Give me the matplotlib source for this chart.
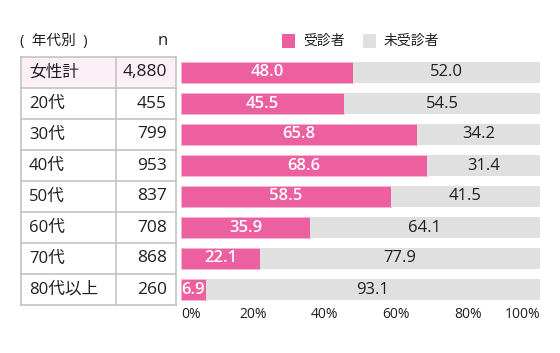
import matplotlib
matplotlib.use("Agg")
import matplotlib.pyplot as plt
from matplotlib.patches import Rectangle

plt.rcParams['font.family'] = ['Open Sans', 'Noto Sans CJK JP', 'DejaVu Sans']

groups = ["女性計", "20代", "30代", "40代", "50代", "60代", "70代", "80代以上"]
n_values = ["4,880", "455", "799", "953", "837", "708", "868", "260"]
visited = [48.0, 45.5, 65.8, 68.6, 58.5, 35.9, 22.1, 6.9]
not_visited = [52.0, 54.5, 34.2, 31.4, 41.5, 64.1, 77.9, 93.1]
legend_labels = ["受診者", "未受診者"]
ticks = [0, 20, 40, 60, 80, 100]

pink = "#ED60A0"
grey = "#E0E0E0"
border = "#C4C4C4"
ink = "#1E1E1E"

W, H = 560, 353
fig = plt.figure(figsize=(W / 100, H / 100), dpi=100)

top_px, bot_px = 57, 305
nrows = len(groups)

# bars
ax = fig.add_axes([181 / W, (H - bot_px) / H, 359 / W, (bot_px - top_px) / H])
ypos = [i + 0.5 for i in range(nrows)]
ax.barh(ypos, visited, height=0.68, color=pink, edgecolor="#F7B5D3", linewidth=0.6)
ax.barh(ypos, not_visited, left=visited, height=0.68, color=grey, linewidth=0)
for y, a, b in zip(ypos, visited, not_visited):
    ax.text(a / 2, y, "%.1f" % a, ha="center", va="center", color="white",
            fontsize=12, fontweight="semibold")
    ax.text(a + b / 2, y, "%.1f" % b, ha="center", va="center", color=ink, fontsize=12)
ax.set_xlim(0, 100)
ax.set_ylim(nrows, 0)
ax.axis("off")
for t in ticks:
    ha = "left" if t == 0 else ("right" if t == 100 else "center")
    ax.text(t, nrows + 0.3, "%d%%" % t, ha=ha, va="center", fontsize=10, color=ink)

# table
tx = fig.add_axes([21 / W, (H - bot_px) / H, 155 / W, (bot_px - top_px) / H])
tx.set_xlim(0, 155)
tx.set_ylim(nrows, 0)
tx.axis("off")
tx.add_patch(Rectangle((0, 0), 155, 1, facecolor="#FCEFF6", edgecolor="none"))
for i in range(nrows + 1):
    tx.plot([0, 155], [i, i], color=border, lw=1.2, clip_on=False)
for x in (0, 95, 155):
    tx.plot([x, x], [0, nrows], color=border, lw=1.2, clip_on=False)
for y, g, n in zip(ypos, groups, n_values):
    tx.text(8, y, g, ha="left", va="center", fontsize=12, color=ink)
    tx.text(146, y, n, ha="right", va="center", fontsize=12.5, color=ink)

# headers
fig.text(20 / W, 1 - 41 / H, "(  年代別  )", ha="left", va="center", fontsize=10.5, color=ink)
fig.text(168 / W, 1 - 41 / H, "n", ha="right", va="center", fontsize=12, color=ink)

# legend
for x0, lab, col in zip([282, 363], legend_labels, [pink, grey]):
    fig.patches.append(Rectangle((x0 / W, 1 - 48 / H), 13 / W, 14 / H, transform=fig.transFigure,
                                 facecolor=col, edgecolor="none"))
    fig.text((x0 + 21) / W, 1 - 41 / H, lab, ha="left", va="center", fontsize=10, color=ink)

fig.savefig("out.png", dpi=100)
